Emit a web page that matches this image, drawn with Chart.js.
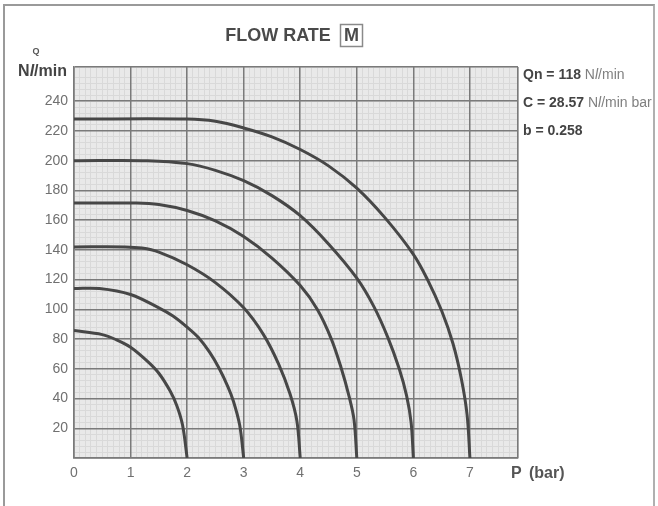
<!DOCTYPE html>
<html>
<head>
<meta charset="utf-8">
<script src="https://cdn.jsdelivr.net/npm/chart.js@4"></script>
<style>
  body { margin: 0; background: #fff; }
  #wrap { position: relative; width: 658px; height: 506px; overflow: hidden; }
  #frame { position: absolute; left: 3px; top: 4px; width: 648px; height: 510px;
           border-left: 2px solid #9a9a9a; border-top: 2px solid #9a9a9a; border-right: 2px solid #b0b0b0; }
  canvas { position: absolute; left: 0; top: 0; }
</style>
</head>
<body>
<div id="wrap">
  <div id="frame"></div>
  <canvas id="chart" width="658" height="506"></canvas>
</div>
<script>
// curves: downstream pressure P (bar) -> flow Q (Nl/min)
// one curve per supply pressure
const p2 = [0, 0.5, 0.75, 1, 1.3, 1.5, 1.7, 1.82, 1.92, 2];
const q2 = [85.7, 83, 79.5, 74.5, 65, 57, 45, 35, 22, 0];

const p3 = [0, 0.45, 1, 1.5, 1.75, 2, 2.2, 2.4, 2.57, 2.72, 2.82, 2.93, 3];
const q3 = [114, 114, 110, 101, 95.5, 88, 81, 71, 60, 48, 38, 22, 0];

const p4 = [0, 0.9, 1.2, 1.5, 2, 2.5, 3, 3.35, 3.62, 3.82, 3.94, 4];
const q4 = [142, 142, 141.2, 138.5, 130, 118, 101, 83, 63, 43, 25, 0];

const p5 = [0, 1.1, 1.5, 2, 2.5, 3, 3.5, 4, 4.3, 4.55, 4.72, 4.86, 4.95, 5];
const q5 = [171.5, 171.5, 170.5, 166.5, 159.5, 149, 134.5, 116, 100, 80, 61, 42, 26, 0];

const p6 = [0, 1.3, 2, 2.5, 3, 3.5, 4, 4.5, 5, 5.3, 5.55, 5.75, 5.88, 5.96, 6];
const q6 = [200, 200, 198, 193.5, 186.5, 176.5, 163, 144, 121, 102, 81, 60, 42, 24, 0];

const p7 = [0, 2, 2.5, 3, 3.5, 4, 4.5, 5, 5.5, 6, 6.25, 6.5, 6.7, 6.85, 6.95, 7];
const q7 = [228, 228, 226.5, 222, 216, 207.5, 196.5, 181.5, 161.5, 137, 120, 99, 77, 53, 29, 0];

const curvesP = [p2, p3, p4, p5, p6, p7];
const curvesQ = [q2, q3, q4, q5, q6, q7];

const xTicks = [0, 1, 2, 3, 4, 5, 6, 7];
const yTicks = [0, 20, 40, 60, 80, 100, 120, 140, 160, 180, 200, 220, 240];
const xMax = 7.85;
const yMax = 263;

const titleText = 'FLOW RATE';
const boxText = 'M';
const notes = [
  ['Qn = 118', ' N', 'l', '/min'],
  ['C = 28.57', ' N', 'l', '/min bar'],
  ['b = 0.258', '', '', '']
];

const FONT = '"Liberation Sans", Arial, Helvetica, sans-serif';

const datasets = curvesP.map((ps, i) => ({
  data: ps.map((p, j) => ({ x: p, y: curvesQ[i][j] })),
  showLine: true,
  borderColor: '#474747',
  borderWidth: 3,
  pointRadius: 0,
  tension: 0.35,
  fill: false
}));

// draws parts left to right, returns end x
function drawParts(ctx, parts, x, y) {
  parts.forEach(([txt, font, color]) => {
    if (!txt) return;
    ctx.font = font;
    ctx.fillStyle = color;
    ctx.fillText(txt, x, y);
    x += ctx.measureText(txt).width;
  });
  return x;
}

const decor = {
  id: 'decor',
  beforeDraw(chart) {
    const { ctx, chartArea: a } = chart;
    ctx.save();
    ctx.fillStyle = '#e9e9e9';
    ctx.fillRect(a.left, a.top, a.right - a.left, a.bottom - a.top);
    ctx.restore();
  },
  afterDraw(chart) {
    const ctx = chart.ctx;
    ctx.save();
    ctx.textBaseline = 'middle';

    // title + boxed letter
    ctx.textAlign = 'center';
    ctx.font = 'bold 18px ' + FONT;
    ctx.fillStyle = '#4a4a4a';
    ctx.fillText(titleText, 278, 36);
    ctx.strokeStyle = '#8a8a8a';
    ctx.lineWidth = 1.5;
    ctx.strokeRect(340.5, 24.5, 22, 22);
    ctx.fillText(boxText, 351.5, 36);

    // y axis name
    ctx.font = 'bold 9px ' + FONT;
    ctx.fillStyle = '#555';
    ctx.fillText('Q', 36, 52);
    ctx.textAlign = 'left';
    const yParts = [
      ['N', 'bold 16px ' + FONT, '#444'],
      ['l', 'italic bold 16px ' + FONT, '#444'],
      ['/min', 'bold 16px ' + FONT, '#444']
    ];
    let w = 0;
    yParts.forEach(([t, f]) => { ctx.font = f; w += ctx.measureText(t).width; });
    drawParts(ctx, yParts, 67 - w, 72);

    // x axis name
    drawParts(ctx, [['P', 'bold 16px ' + FONT, '#555']], 511, 474);
    drawParts(ctx, [['(bar)', 'bold 16px ' + FONT, '#555']], 529, 474);

    // notes on the right
    notes.forEach((n, i) => {
      drawParts(ctx, [
        [n[0], 'bold 14px ' + FONT, '#444'],
        [n[1], '14px ' + FONT, '#808080'],
        [n[2], 'italic 14px ' + FONT, '#808080'],
        [n[3], '14px ' + FONT, '#808080']
      ], 523, 75 + i * 28);
    });
    ctx.restore();
  }
};

new Chart(document.getElementById('chart'), {
  type: 'scatter',
  data: { datasets: datasets },
  options: {
    responsive: false,
    animation: false,
    layout: { padding: { top: 67, right: 140, bottom: 0, left: 0 } },
    plugins: { legend: { display: false }, tooltip: { enabled: false } },
    scales: {
      xMinor: {
        type: 'linear', position: 'bottom', min: 0, max: xMax, z: -1,
        afterFit: s => { s.height = 0; },
        ticks: { display: false, stepSize: 0.1 },
        grid: { color: '#d9d9d9', lineWidth: 1, drawTicks: false },
        border: { display: false }
      },
      yMinor: {
        type: 'linear', position: 'left', min: 0, max: yMax, z: -1,
        afterFit: s => { s.width = 0; },
        ticks: { display: false, stepSize: 4 },
        grid: { color: '#d9d9d9', lineWidth: 1, drawTicks: false },
        border: { display: false }
      },
      x: {
        type: 'linear', position: 'bottom', min: 0, max: xMax,
        afterFit: s => { s.height = 48; },
        afterBuildTicks: s => { s.ticks = xTicks.concat([xMax]).map(v => ({ value: v })); },
        ticks: {
          autoSkip: false, maxRotation: 0, padding: 7,
          color: '#707070', font: { size: 14, family: FONT },
          callback: v => xTicks.includes(v) ? v : ''
        },
        grid: { color: '#7a7a7a', lineWidth: 1.5, drawTicks: false },
        border: { color: '#7a7a7a', width: 1.5 }
      },
      y: {
        type: 'linear', position: 'left', min: 0, max: yMax,
        afterFit: s => { s.width = 74; },
        afterBuildTicks: s => { s.ticks = yTicks.concat([yMax]).map(v => ({ value: v })); },
        ticks: {
          autoSkip: false, padding: 6,
          color: '#707070', font: { size: 14, family: FONT },
          callback: v => (v > 0 && yTicks.includes(v)) ? v : ''
        },
        grid: { color: '#7a7a7a', lineWidth: 1.5, drawTicks: false },
        border: { color: '#7a7a7a', width: 1.5 }
      }
    }
  },
  plugins: [decor]
});
</script>
</body>
</html>
